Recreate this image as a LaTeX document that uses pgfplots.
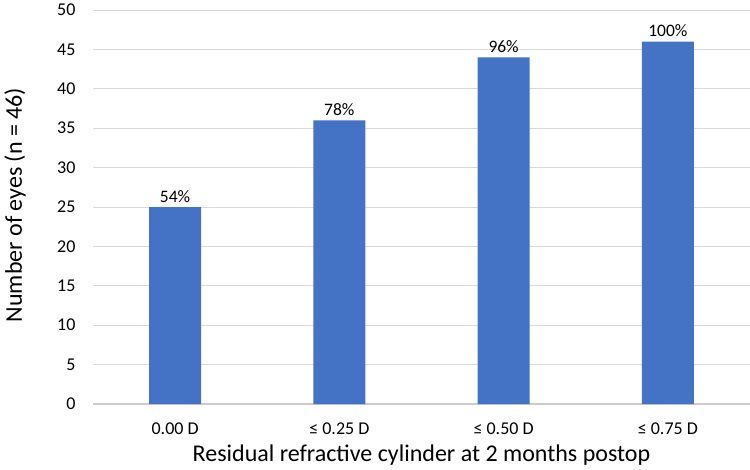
\documentclass[border=0pt]{standalone}
\usepackage{fontspec}
\setmainfont{Carlito}
\usepackage{pgfplots}
\pgfplotsset{compat=1.18}
\definecolor{barblue}{HTML}{4472C4}
\definecolor{gridgray}{HTML}{D9D9D9}
\begin{document}
\begin{tikzpicture}
\path[use as bounding box] (-93pt,-65pt) rectangle (657pt,404pt);
\begin{axis}[
  at={(0,0)}, anchor=south west,
  scale only axis, width=657pt, height=394pt,
  xmin=-0.5, xmax=3.5, ymin=0, ymax=50,
  ytick={5,10,...,50},
  xtick={0,1,2,3},
  xticklabels={0.00 D, ≤ 0.25 D, ≤ 0.50 D, ≤ 0.75 D},
  major tick length=0pt,
  axis x line*=bottom,
  axis y line*=left,
  axis line style={draw=none},
  ymajorgrids, grid style={gridgray, line width=1pt},
  extra y ticks={0}, extra y tick style={grid style={draw=gridgray!85!gray, line width=1.3pt}},
  /pgf/number format/assume math mode=true,
  yticklabel style={font=\fontsize{18}{18}\selectfont, xshift=-14pt},
  xticklabel style={font=\fontsize{18}{18}\selectfont, yshift=-15pt},
  ylabel={Number of eyes (n = 46)},
  xlabel={Residual refractive cylinder at 2 months postop},
  label style={font=\fontsize{24}{24}\selectfont},
  ylabel style={at={(axis description cs:0,0.5)}, anchor=center, yshift=78pt, xshift=2pt},
  xlabel style={at={(axis description cs:0.5,0)}, anchor=center, yshift=-51pt},
  ybar, bar width=52pt,
  nodes near coords,
  point meta=explicit symbolic,
  every node near coord/.append style={font=\fontsize{17.5}{17.5}\selectfont, black, yshift=1pt},
  clip=false,
]
\addplot[fill=barblue, draw=none] coordinates {(0,25)[54\%] (1,36)[78\%] (2,44)[96\%] (3,46)[100\%]};
\end{axis}
\end{tikzpicture}
\end{document}
